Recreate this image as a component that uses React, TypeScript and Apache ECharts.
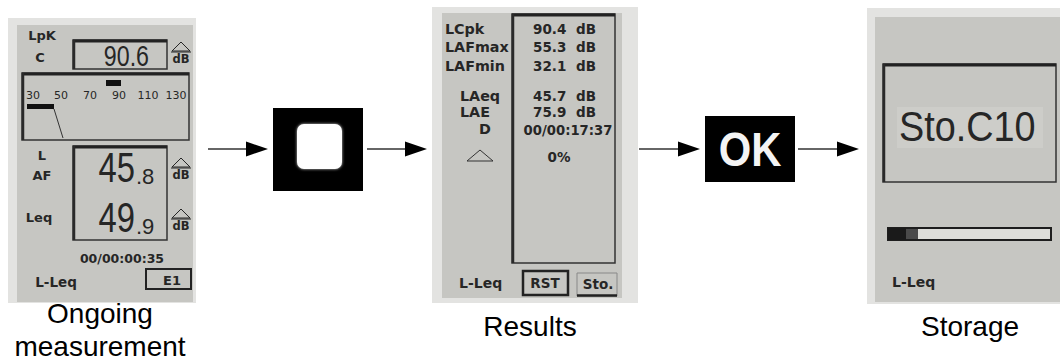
import React, { useEffect, useRef } from "react";
import * as echarts from "echarts";

// ---- data (texts shown on the screens) ----
const screen1TopLabels = ["LpK", "C"];
const screen1Peak = "90.6";
const barScaleLabels = ["30", "50", "70", "90", "110", "130"];
const screen1Level = ["45", ".8"];
const screen1Leq = ["49", ".9"];
const screen1SideLabels = ["L", "AF", "Leq"];
const screen1Time = "00/00:00:35";
const screen1Footer = ["L-Leq", "E1"];

const resultLabels = ["LCpk", "LAFmax", "LAFmin", "LAeq", "LAE", "D"];
const resultValues = ["90.4", "55.3", "32.1", "45.7", "75.9"];
const resultUnit = "dB";
const resultDuration = "00/00:17:37";
const resultPercent = "0%";
const resultFooter = ["L-Leq", "RST", "Sto."];

const storageText = "Sto.C10";
const storageFooter = "L-Leq";
const buttonOk = "OK";
const captions = ["Ongoing", "measurement", "Results", "Storage"];

// ---- drawing ----
const INK = "#262626";
const LCD = "#c6c6c2";
const BEZEL = "#e3e3e1";
const LCDF = "DejaVu Sans";
const SANS = "Liberation Sans";

type TO = { size: number; font?: string; bold?: boolean; color?: string; align?: string; sx?: number };
function T(text: string, x: number, y: number, o: TO) {
  const align = o.align || "center";
  return {
    type: "text",
    x,
    y,
    scaleX: o.sx || 1,
    style: {
      text,
      x: 0,
      y: 0,
      fontSize: o.size,
      fontFamily: o.font || LCDF,
      fontWeight: o.bold ? "bold" : "normal",
      fill: o.color || INK,
      align,
      verticalAlign: "middle",
      textAlign: align,
      textVerticalAlign: "middle",
    },
  };
}
function R(x: number, y: number, w: number, h: number, style: any, r = 0) {
  return { type: "rect", shape: { x, y, width: w, height: h, r }, style };
}
function L(x1: number, y1: number, x2: number, y2: number, stroke = INK, lw = 1) {
  return { type: "line", shape: { x1, y1, x2, y2 }, style: { stroke, lineWidth: lw } };
}
function P(points: number[][], style: any) {
  return { type: "polygon", shape: { points }, style };
}
function dbMark(cx: number, apexY: number) {
  return [
    P([[cx - 9, apexY + 9], [cx, apexY], [cx + 9, apexY + 9]], { fill: "none", stroke: INK, lineWidth: 1 }),
    L(cx - 10, apexY + 10, cx + 10, apexY + 10, INK, 1),
    T("dB", cx, apexY + 17, { size: 11.5, bold: true }),
  ];
}
function arrow(x1: number, x2: number, y: number) {
  return [
    L(x1, y, x2, y, "#333", 1.5),
    P([[x2, y - 7.5], [x2 + 22, y], [x2, y + 7.5]], { fill: "#000" }),
  ];
}
function boxFrame(x: number, y: number, w: number, h: number) {
  return [
    R(x, y, w, h, { fill: "none", stroke: "#333", lineWidth: 1.5 }),
    L(x, y + 1, x + w, y + 1, "#222", 3),
    L(x + 1, y, x + 1, y + h, "#2a2a2a", 2.5),
  ];
}

function buildElements() {
  const els: any[] = [];

  // ===== Screen 1: ongoing measurement =====
  els.push(R(8, 18, 188, 285, { fill: BEZEL }));
  els.push(R(17, 25, 176, 277, { fill: LCD }));
  els.push(T(screen1TopLabels[0], 42, 35, { size: 13, bold: true }));
  els.push(T(screen1TopLabels[1], 40, 57, { size: 13, bold: true }));
  els.push(...boxFrame(73, 40, 94, 29));
  els.push(T(screen1Peak, 149, 56, { size: 29, font: SANS, align: "right", sx: 0.8 }));
  els.push(...dbMark(181, 42));

  // bar graph
  els.push(...boxFrame(22, 73, 167, 67));
  els.push(R(106, 80, 15, 6, { fill: "#111" }));
  const scaleX = [33, 61, 90, 119, 148, 176];
  barScaleLabels.forEach((s, i) => els.push(T(s, scaleX[i], 95, { size: 11 })));
  els.push(R(27, 104, 27, 5, { fill: "#111" }));
  els.push(L(54, 109, 63, 138, "#333", 1));

  // level box
  els.push(T(screen1SideLabels[0], 42, 155, { size: 13, bold: true }));
  els.push(T(screen1SideLabels[1], 42, 175, { size: 13, bold: true }));
  els.push(T(screen1SideLabels[2], 39, 217, { size: 13, bold: true }));
  els.push(...boxFrame(73, 146, 94, 94));
  els.push(T(screen1Level[0], 135, 168, { size: 42, font: SANS, align: "right", sx: 0.78 }));
  els.push(T(screen1Level[1], 136, 176, { size: 22, font: SANS, align: "left" }));
  els.push(T(screen1Leq[0], 135, 218, { size: 42, font: SANS, align: "right", sx: 0.78 }));
  els.push(T(screen1Leq[1], 136, 226, { size: 22, font: SANS, align: "left" }));
  els.push(...dbMark(181, 158));
  els.push(...dbMark(181, 209));
  els.push(T(screen1Time, 122, 258, { size: 12.5, bold: true }));
  els.push(T(screen1Footer[0], 56, 282, { size: 13.5, bold: true }));
  els.push(R(146, 269, 45, 20, { fill: "none", stroke: "#222", lineWidth: 2 }));
  els.push(T(screen1Footer[1], 172, 280, { size: 13, bold: true }));

  // ===== Arrows & buttons =====
  els.push(...arrow(208, 246, 149));
  els.push(R(273, 108, 90, 83, { fill: "#000" }));
  els.push(R(297, 124, 45, 45, { fill: "#fff", shadowBlur: 3, shadowColor: "rgba(255,255,255,0.8)" }, 7));
  els.push(...arrow(367, 405, 149));

  // ===== Screen 2: results =====
  els.push(R(432, 7, 206, 296, { fill: BEZEL }));
  els.push(R(442, 13, 180, 285, { fill: LCD }));
  els.push(...boxFrame(512, 14, 103, 249));
  const labelX = [445, 445, 445, 460, 460, 479];
  const rowY = [29, 47, 66, 96, 112, 129];
  resultLabels.forEach((s, i) =>
    els.push(T(s, labelX[i], rowY[i], { size: 14.3, bold: true, align: "left" }))
  );
  resultValues.forEach((v, i) => {
    els.push(T(v, 533, rowY[i], { size: 13.5, bold: true, align: "left" }));
    els.push(T(resultUnit, 576, rowY[i], { size: 13.5, bold: true, align: "left" }));
  });
  els.push(T(resultDuration, 568, 130, { size: 13.2, bold: true }));
  els.push(P([[467, 161], [480, 150], [493, 161]], { fill: "none", stroke: "#333", lineWidth: 1 }));
  els.push(T(resultPercent, 559, 157, { size: 13.5, bold: true }));
  els.push(T(resultFooter[0], 459, 283, { size: 14, bold: true, align: "left" }));
  els.push(R(523, 271, 45, 24, { fill: "none", stroke: "#222", lineWidth: 2.5 }));
  els.push(T(resultFooter[1], 545, 283, { size: 13.5, bold: true }));
  els.push(R(577, 273, 40, 23, { fill: "none", stroke: "#888", lineWidth: 1 }));
  els.push(L(577, 295.5, 617, 295.5, "#222", 2.5));
  els.push(T(resultFooter[2], 598, 284, { size: 13.5, bold: true }));

  els.push(...arrow(639, 678, 149));
  els.push(R(705, 116, 90, 66, { fill: "#000" }));
  els.push(T(buttonOk, 750, 149, { size: 48, font: SANS, bold: true, color: "#f4f4f4", sx: 0.87 }));
  els.push(...arrow(798, 837, 149));

  // ===== Screen 3: storage =====
  els.push(R(867, 8, 193, 296, { fill: BEZEL }));
  els.push(R(875, 17, 185, 285, { fill: LCD }));
  els.push(...boxFrame(883, 64, 173, 118));
  els.push(R(897, 107, 146, 41, { fill: "#cdcdc9" }));
  els.push(T(storageText, 899, 126, { size: 42, font: SANS, align: "left", sx: 0.9 }));
  els.push(R(888, 228, 163, 12, { fill: "#dededa", stroke: "#1e1e1e", lineWidth: 2 }));
  els.push(R(888, 228, 18, 12, { fill: "#1a1a1a" }));
  els.push(R(906, 229, 12, 10, { fill: "#4a4a4a" }));
  els.push(T(storageFooter, 892, 282, { size: 14, bold: true, align: "left" }));

  // ===== Captions =====
  els.push(T(captions[0], 100, 313, { size: 28, font: SANS, color: "#000" }));
  els.push(T(captions[1], 100, 346, { size: 28, font: SANS, color: "#000" }));
  els.push(T(captions[2], 530, 326, { size: 28, font: SANS, color: "#000" }));
  els.push(T(captions[3], 970, 326, { size: 28, font: SANS, color: "#000" }));

  return els.map((e, i) => ({ ...e, z: 10 + i }));
}

export default function App() {
  const ref = useRef<HTMLDivElement>(null);
  useEffect(() => {
    if (!ref.current) return;
    const chart = echarts.init(ref.current, undefined, { renderer: "svg" });
    chart.setOption({
      animation: false,
      backgroundColor: "#ffffff",
      graphic: { elements: buildElements() },
    });
    return () => chart.dispose();
  }, []);
  return (
    <div
      ref={ref}
      style={{ position: "fixed", left: 0, top: 0, width: 1060, height: 362, background: "#fff" }}
    />
  );
}
